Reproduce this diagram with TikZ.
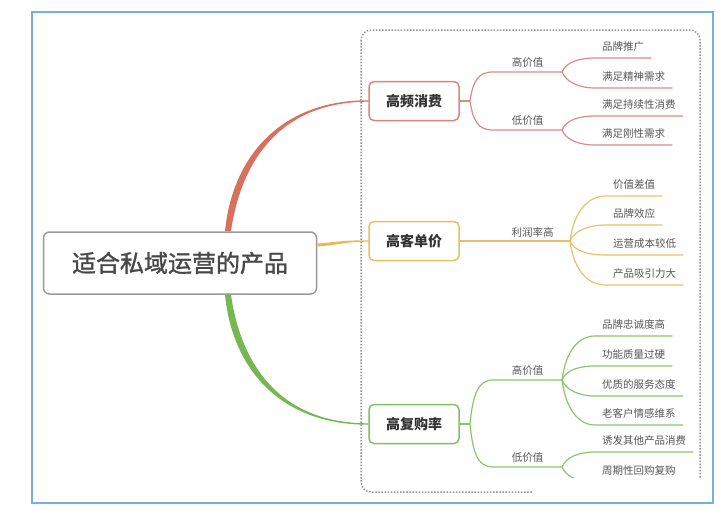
\documentclass[tikz,border=0pt]{standalone}
\usepackage{fontspec}
\setmainfont{Noto Sans CJK SC}
\newfontfamily\rootfont{Noto Sans CJK SC}[FakeBold=1.2]
\usepackage{tikz}
\usetikzlibrary{positioning}
\usetikzlibrary{calc}

\definecolor{frameblue}{HTML}{7AAEDD}
\definecolor{hfred}{HTML}{D9705E}
\definecolor{hfline}{HTML}{D98C80}
\definecolor{hkorange}{HTML}{E9B84E}
\definecolor{hkline}{HTML}{E9C06A}
\definecolor{fggreen}{HTML}{74B852}
\definecolor{fgline}{HTML}{8CC46C}
\definecolor{txtgray}{HTML}{555555}
\definecolor{topicgray}{HTML}{333333}

\begin{document}
\begin{tikzpicture}[
			x = 1pt, y = -1pt,
			rootbox/.style = {draw = gray!80, line width = 1.5pt, rounded corners = 6pt, fill = white,
				minimum width = 273pt, minimum height = 62pt, font = \rootfont\fontsize{24}{24}\selectfont, text = topicgray!90},
			topic/.style = {draw = #1, line width = 1.5pt, rounded corners = 5pt, fill = white,
				minimum width = 90pt, minimum height = 39pt, font = \fontsize{14}{14}\selectfont\bfseries, text = topicgray},
			leaf/.style = {anchor = south west, inner xsep = 7pt, inner ysep = 5pt, text height = 8pt, text depth = 2pt,
				font = \fontsize{10.5}{10.5}\selectfont, text = txtgray},
			branchlabel/.style = {above, inner sep = 3.5pt, font = \fontsize{10.5}{10.5}\selectfont, text = txtgray},
			sub/.style = {line width = 1.2pt}
		]
		\useasboundingbox (0,0) rectangle (720,520);
		\draw[frameblue, line width = 2.5pt] (32,12) rectangle (713,503);

		\begin{scope}
			\clip (0,0) -- (720,0) -- (720,478) -- (533,478) -- (533,520) -- (0,520) -- cycle;
			\draw[gray!85, line width = 1.5pt, dash pattern = on 1.5pt off 1.6pt, rounded corners = 10pt] (361,30) rectangle (700,492);

			% Topics
			\node[rootbox] (Root) at (180,263) {适合私域运营的产品};
			\node[topic = hfred!85] (HF) at (414,101) {高频消费};
			\node[topic = hkorange!90] (HK) at (414,241) {高客单价};
			\node[topic = fggreen!90] (FG) at (414,424) {高复购率};

			% Main branches
			\fill[hfred] ($(Root.north)+(45,0)$) .. controls +(7,-72) and +(-90,0) .. ($(HF.west)+(0,-0.7)$)
				-- ($(HF.west)+(0,0.7)$) .. controls +(-88,0) and +(10,-70) .. ($(Root.north)+(51,0)$) -- cycle;
			\fill[hkorange] ($(Root.east)+(0,-19.5)$) .. controls +(25,-2) and +(-25,0) .. ($(HK.west)+(0,-0.7)$)
				-- ($(HK.west)+(0,0.7)$) .. controls +(-25,0) and +(25,-2) .. ($(Root.east)+(0,-16.5)$) -- cycle;
			\fill[fggreen] ($(Root.south)+(45,0)$) .. controls +(7,72) and +(-90,0) .. ($(FG.west)+(0,0.7)$)
				-- ($(FG.west)+(0,-0.7)$) .. controls +(-88,0) and +(10,70) .. ($(Root.south)+(51,0)$) -- cycle;

			% Branch points
			\coordinate (HFs) at (470,101);
			\coordinate (HFh0) at (493,72);   \coordinate (HFh) at (562,72);
			\coordinate (HFl0) at (493,130);  \coordinate (HFl) at (562,130);
			\coordinate (HKb) at (570,241);
			\coordinate (FGs) at (470,424);
			\coordinate (FGh0) at (493,380);  \coordinate (FGh) at (562,380);
			\coordinate (FGl0) at (493,467);  \coordinate (FGl) at (562,467);

			% Leaves
			\node[leaf] (L11) at (595,58) {品牌推广};
			\node[leaf] (L12) at (595,88) {满足精神需求};
			\node[leaf] (L13) at (595,116) {满足持续性消费};
			\node[leaf] (L14) at (595,145) {满足刚性需求};
			\node[leaf] (L21) at (606,196) {价值差值};
			\node[leaf] (L22) at (606,225) {品牌效应};
			\node[leaf] (L23) at (606,255) {运营成本较低};
			\node[leaf] (L24) at (606,285) {产品吸引力大};
			\node[leaf] (L31) at (595,336) {品牌忠诚度高};
			\node[leaf] (L32) at (595,366) {功能质量过硬};
			\node[leaf] (L33) at (595,396) {优质的服务态度};
			\node[leaf] (L34) at (595,425) {老客户情感维系};
			\node[leaf] (L35) at (595,452) {诱发其他产品消费};
			\node[leaf] (L36) at (595,482) {周期性回购复购};

			% 高频消费
			\begin{scope}[sub]
				\draw[hfline] (HF.east) -- (HFs);
				\draw[hfline] (HFs) .. controls +(3,-20) and +(-15,0) .. (HFh0) -- node[branchlabel] (HFhl) {高价值} (HFh);
				\draw[hfline] (HFs) .. controls +(3,20) and +(-15,0) .. (HFl0) -- node[branchlabel] (HFll) {低价值} (HFl);
				\draw[hfline] (HFh) .. controls +(4,-10) and +(-16,0) .. (L11.south west) -- (L11.south east);
				\draw[hfline] (HFh) .. controls +(4,10) and +(-16,0) .. (L12.south west) -- (L12.south east);
				\draw[hfline] (HFl) .. controls +(4,-10) and +(-16,0) .. (L13.south west) -- (L13.south east);
				\draw[hfline] (HFl) .. controls +(4,10) and +(-16,0) .. (L14.south west) -- (L14.south east);
			\end{scope}

			% 高客单价
			\begin{scope}[sub]
				\draw[hkline] (HK.east) -- node[branchlabel, pos = 0.66] (HKbl) {利润率高} (HKb);
				\draw[hkline] (HKb) .. controls +(4,-30) and +(-18,0) .. (L21.south west) -- (L21.south east);
				\draw[hkline] (HKb) .. controls +(4,-10) and +(-18,0) .. (L22.south west) -- (L22.south east);
				\draw[hkline] (HKb) .. controls +(4,10) and +(-18,0) .. (L23.south west) -- (L23.south east);
				\draw[hkline] (HKb) .. controls +(4,30) and +(-18,0) .. (L24.south west) -- (L24.south east);
			\end{scope}

			% 高复购率
			\begin{scope}[sub]
				\draw[fgline] (FG.east) -- (FGs);
				\draw[fgline] (FGs) .. controls +(3,-30) and +(-15,0) .. (FGh0) -- node[branchlabel] (FGhl) {高价值} (FGh);
				\draw[fgline] (FGs) .. controls +(3,30) and +(-15,0) .. (FGl0) -- node[branchlabel] (FGll) {低价值} (FGl);
				\draw[fgline] (FGh) .. controls +(4,-30) and +(-16,0) .. (L31.south west) -- (L31.south east);
				\draw[fgline] (FGh) .. controls +(4,-10) and +(-16,0) .. (L32.south west) -- (L32.south east);
				\draw[fgline] (FGh) .. controls +(4,10) and +(-16,0) .. (L33.south west) -- (L33.south east);
				\draw[fgline] (FGh) .. controls +(4,30) and +(-16,0) .. (L34.south west) -- (L34.south east);
				\draw[fgline] (FGl) .. controls +(4,-10) and +(-16,0) .. (L35.south west) -- (L35.south east);
				\draw[fgline] (FGl) .. controls +(4,10) and +(-16,0) .. (L36.south west) -- (L36.south east);
			\end{scope}
		\end{scope}
\end{tikzpicture}
\end{document}
